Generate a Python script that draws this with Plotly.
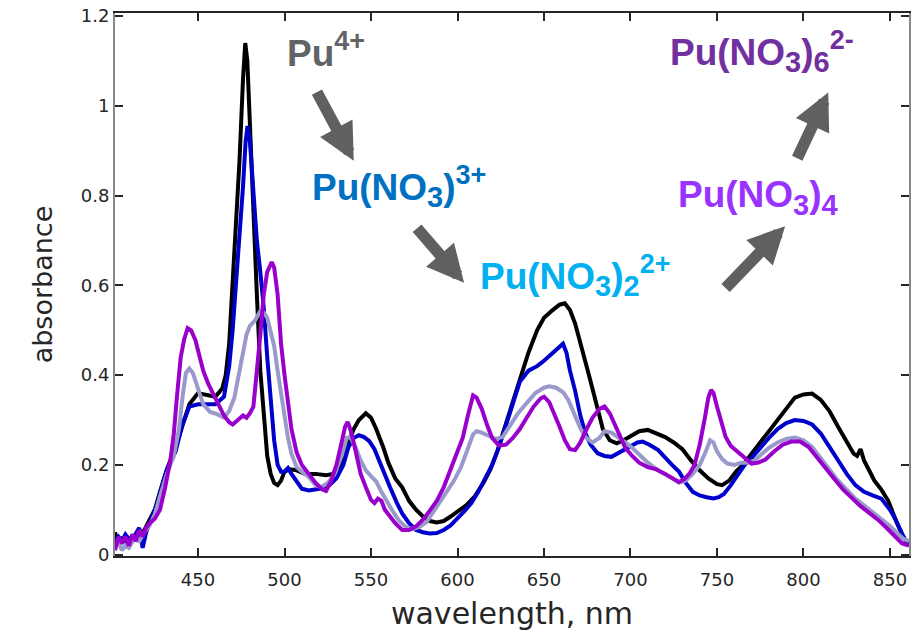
import plotly.graph_objects as go

# ---------------- data ----------------
wl_pu4 = [402, 404, 406, 408, 410, 413, 416, 419, 422, 425, 428, 432, 437, 441, 445, 450, 455, 460, 464, 466, 468,
          470, 472, 474, 476, 477.3, 478.5, 480, 482, 484, 486, 488, 490, 492, 494, 496, 498, 500, 503, 507, 512, 518,
          524, 528, 532, 536, 540, 543, 547, 550, 553, 557, 560, 564, 568, 572, 576, 580, 584, 588, 592, 596, 600,
          605, 610, 615, 619, 623, 627, 631, 636, 641, 646, 650, 655, 659, 662, 665, 668, 672, 676, 680, 684, 688,
          692, 696, 700, 705, 710, 715, 720, 725, 730, 735, 740, 745, 750, 753, 757, 761, 765, 770, 775, 780, 785,
          790, 795, 800, 805, 810, 815, 820, 825, 829, 831, 833, 835, 838, 841, 845, 849, 853, 857, 861]
abs_pu4 = [0.05, 0.02, 0.035, 0.03, 0.025, 0.04, 0.045, 0.055, 0.08, 0.10, 0.14, 0.19, 0.24, 0.29, 0.335, 0.36,
           0.355, 0.352, 0.37, 0.40, 0.47, 0.60, 0.72, 0.88, 1.06, 1.14, 1.10, 0.95, 0.78, 0.58, 0.41, 0.30, 0.22,
           0.18, 0.16, 0.155, 0.165, 0.185, 0.19, 0.188, 0.18, 0.18, 0.177, 0.18, 0.20, 0.24, 0.28, 0.30, 0.315,
           0.305, 0.28, 0.24, 0.205, 0.17, 0.15, 0.12, 0.10, 0.085, 0.075, 0.072, 0.075, 0.085, 0.095, 0.11, 0.13,
           0.16, 0.19, 0.23, 0.28, 0.33, 0.39, 0.45, 0.50, 0.528, 0.545, 0.557, 0.56, 0.545, 0.515, 0.46, 0.40, 0.34,
           0.28, 0.255, 0.248, 0.255, 0.265, 0.275, 0.278, 0.27, 0.262, 0.25, 0.235, 0.21, 0.188, 0.17, 0.157,
           0.155, 0.165, 0.185, 0.20, 0.225, 0.25, 0.275, 0.30, 0.325, 0.35, 0.357, 0.359, 0.345, 0.32, 0.285, 0.25,
           0.225, 0.22, 0.235, 0.21, 0.185, 0.165, 0.145, 0.12, 0.08, 0.045, 0.02]

wl_no3 = [402, 404, 406, 408, 410, 413, 416, 418, 420, 423, 426, 429, 432, 437, 441, 445, 450, 455, 460, 465, 468,
          470, 472, 474, 476, 477.5, 478.6, 480, 482, 484, 486, 488, 490, 492, 494, 496, 498, 500, 502, 504, 507,
          510, 514, 518, 522, 526, 530, 534, 537, 540, 543, 546, 549, 552, 555, 558, 561, 565, 568, 572, 576, 580,
          584, 588, 592, 596, 600, 604, 608, 612, 616, 620, 624, 628, 632, 636, 641, 646, 650, 655, 659, 661, 663,
          665, 668, 671, 674, 677, 681, 685, 689, 694, 699, 704, 707, 711, 716, 720, 724, 728, 732, 736, 740, 744,
          748, 751, 754, 758, 762, 766, 770, 775, 780, 785, 790, 795, 800, 805, 810, 815, 820, 825, 830, 835, 840,
          845, 850, 853, 856, 859, 861]
abs_no3 = [0.03, 0.04, 0.03, 0.045, 0.035, 0.04, 0.06, 0.015, 0.05, 0.08, 0.11, 0.15, 0.19, 0.23, 0.29, 0.33, 0.335,
           0.335, 0.335, 0.352, 0.42, 0.50, 0.60, 0.70, 0.82, 0.92, 0.955, 0.92, 0.80, 0.70, 0.63, 0.55, 0.44, 0.34,
           0.255, 0.20, 0.185, 0.185, 0.193, 0.18, 0.163, 0.147, 0.143, 0.145, 0.148, 0.155, 0.17, 0.20, 0.24, 0.26,
           0.266, 0.262, 0.253, 0.235, 0.205, 0.18, 0.15, 0.115, 0.092, 0.07, 0.055, 0.05, 0.047, 0.048, 0.055,
           0.065, 0.08, 0.097, 0.115, 0.14, 0.17, 0.20, 0.24, 0.29, 0.34, 0.385, 0.41, 0.42, 0.432, 0.45, 0.463,
           0.47, 0.45, 0.41, 0.365, 0.31, 0.27, 0.245, 0.226, 0.22, 0.218, 0.228, 0.24, 0.25, 0.252, 0.245, 0.233,
           0.215, 0.20, 0.185, 0.16, 0.14, 0.132, 0.128, 0.125, 0.128, 0.135, 0.155, 0.178, 0.20, 0.215, 0.238,
           0.26, 0.28, 0.293, 0.30, 0.298, 0.29, 0.27, 0.24, 0.21, 0.18, 0.155, 0.14, 0.132, 0.125, 0.10, 0.08,
           0.055, 0.03, 0.02]

wl_no3_2 = [402, 404, 406, 408, 410, 413, 416, 419, 422, 425, 428, 432, 436, 439, 441, 443, 445, 447, 450, 453, 457,
            461, 465, 468, 471, 474, 476, 478, 480, 483, 486, 488, 490, 492, 494, 496, 498, 500, 502, 504, 507, 510,
            514, 518, 521, 525, 529, 533, 536, 538, 541, 544, 547, 550, 553, 556, 559, 562, 566, 570, 574, 578, 582,
            586, 590, 594, 598, 602, 606, 609, 611, 614, 618, 622, 626, 630, 635, 640, 645, 650, 653, 657, 661, 664,
            668, 671, 674, 678, 682, 685, 689, 693, 697, 701, 705, 710, 715, 720, 724, 728, 732, 736, 740, 743, 746,
            748, 750, 753, 756, 760, 764, 768, 772, 776, 780, 785, 790, 795, 800, 805, 810, 815, 820, 825, 830, 835,
            840, 845, 850, 855, 858, 861]
abs_no3_2 = [0.02, 0.03, 0.01, 0.02, 0.015, 0.035, 0.03, 0.05, 0.065, 0.09, 0.13, 0.18, 0.22, 0.28, 0.35, 0.405,
             0.415, 0.405, 0.37, 0.335, 0.318, 0.313, 0.305, 0.32, 0.35, 0.41, 0.45, 0.49, 0.51, 0.522, 0.543, 0.54,
             0.528, 0.50, 0.465, 0.41, 0.36, 0.31, 0.26, 0.225, 0.195, 0.185, 0.173, 0.155, 0.15, 0.16, 0.18, 0.22,
             0.26, 0.262, 0.24, 0.21, 0.188, 0.175, 0.163, 0.14, 0.118, 0.10, 0.077, 0.062, 0.057, 0.062, 0.072,
             0.095, 0.118, 0.14, 0.165, 0.195, 0.235, 0.268, 0.275, 0.272, 0.265, 0.258, 0.262, 0.285, 0.315, 0.338,
             0.36, 0.372, 0.375, 0.372, 0.362, 0.345, 0.31, 0.282, 0.262, 0.25, 0.26, 0.275, 0.272, 0.262, 0.25,
             0.238, 0.222, 0.205, 0.19, 0.18, 0.17, 0.16, 0.165, 0.18, 0.20, 0.225, 0.255, 0.25, 0.23, 0.213, 0.203,
             0.20, 0.205, 0.205, 0.21, 0.225, 0.238, 0.25, 0.258, 0.261, 0.255, 0.24, 0.215, 0.19, 0.165, 0.145,
             0.125, 0.11, 0.095, 0.08, 0.064, 0.045, 0.035, 0.03]

wl_no3_4 = [402, 404, 406, 408, 410, 412, 414, 416, 418, 420, 422, 425, 428, 431, 434, 436, 438, 440, 442, 444, 446,
            448.5, 451, 453, 456, 459, 462, 465, 468, 470, 473, 476, 478, 480, 482, 484, 486, 488, 490, 492.6, 494,
            496, 498, 500, 502, 504, 507, 510, 514, 518, 522, 524, 527, 530, 533, 535, 536.5, 538, 540, 542, 544,
            547, 550, 552, 554, 556, 558, 561, 564, 568, 572, 576, 580, 584, 588, 592, 596, 600, 603, 606, 609, 611,
            614, 617, 620, 624, 628, 632, 636, 640, 644, 648, 650, 653, 656, 659, 662, 665, 668, 671, 674, 678, 682,
            685, 688, 691, 694, 697, 701, 705, 710, 715, 720, 724, 728, 731, 734, 737, 740, 743, 745, 746.6, 748,
            750, 752, 755, 758, 762, 766, 770, 774, 778, 783, 788, 793, 798, 803, 808, 813, 818, 823, 828, 833, 838,
            843, 848, 853, 857, 861]
abs_no3_4 = [0.01, 0.04, 0.025, 0.04, 0.02, 0.045, 0.03, 0.055, 0.04, 0.06, 0.07, 0.08, 0.10, 0.15, 0.21, 0.27, 0.36,
             0.44, 0.48, 0.505, 0.50, 0.478, 0.44, 0.41, 0.38, 0.355, 0.33, 0.31, 0.295, 0.29, 0.30, 0.31, 0.305,
             0.315, 0.33, 0.40, 0.49, 0.58, 0.63, 0.652, 0.64, 0.58, 0.47, 0.40, 0.34, 0.28, 0.228, 0.20, 0.18, 0.16,
             0.145, 0.142, 0.165, 0.20, 0.25, 0.285, 0.296, 0.28, 0.25, 0.215, 0.18, 0.15, 0.122, 0.115, 0.125, 0.12,
             0.10, 0.085, 0.07, 0.055, 0.055, 0.063, 0.078, 0.098, 0.12, 0.15, 0.19, 0.225, 0.26, 0.31, 0.355, 0.35,
             0.325, 0.29, 0.26, 0.243, 0.245, 0.26, 0.28, 0.305, 0.33, 0.348, 0.352, 0.34, 0.315, 0.285, 0.255,
             0.235, 0.233, 0.25, 0.275, 0.305, 0.325, 0.33, 0.315, 0.29, 0.26, 0.238, 0.22, 0.205, 0.195, 0.19,
             0.18, 0.17, 0.162, 0.168, 0.18, 0.20, 0.245, 0.305, 0.35, 0.367, 0.36, 0.33, 0.30, 0.262, 0.242, 0.228,
             0.215, 0.203, 0.205, 0.212, 0.23, 0.245, 0.252, 0.252, 0.24, 0.215, 0.19, 0.168, 0.145, 0.125, 0.108,
             0.093, 0.078, 0.06, 0.04, 0.025, 0.02]

series_names = ["Pu<sup>4+</sup>", "Pu(NO<sub>3</sub>)<sup>3+</sup>",
                "Pu(NO<sub>3</sub>)<sub>2</sub><sup>2+</sup>", "Pu(NO<sub>3</sub>)<sub>4</sub>"]
series_colors = ["#000000", "#0000cc", "#9999cc", "#9900cc"]

x_ticks = [450, 500, 550, 600, 650, 700, 750, 800, 850]
y_ticks = [0, 0.2, 0.4, 0.6, 0.8, 1.0, 1.2]

# ---------------- figure ----------------
fig = go.Figure()
for wl, ab, name, col in zip([wl_pu4, wl_no3, wl_no3_2, wl_no3_4],
                             [abs_pu4, abs_no3, abs_no3_2, abs_no3_4],
                             series_names, series_colors):
    fig.add_trace(go.Scatter(x=wl, y=ab, mode="lines", name=name,
                             line=dict(color=col, width=4)))


def sub(t):
    return '<sub><span style="font-size:29px">' + t + '</span></sub>'


def sup(t):
    return '<sup><span style="font-size:27px">' + t + '</span></sup>'


label_font = "Liberation Sans, Arial, sans-serif"
labels = [
    ("<b>Pu" + sup("4+") + "</b>", 500.0, 1.125, "#626366"),
    ("<b>Pu(NO" + sub("3") + ")" + sup("3+") + "</b>", 515.0, 0.8205, "#0070c0"),
    ("<b>Pu(NO" + sub("3") + ")" + sub("2") + sup("2+") + "</b>", 612.0, 0.621, "#00b0f0"),
    ("<b>Pu(NO" + sub("3") + ")" + sub("4") + "</b>", 726.3, 0.795, "#9933ff"),
    ("<b>Pu(NO" + sub("3") + ")" + sub("6") + sup("2-") + "</b>", 721.7, 1.121, "#7030a0"),
]
for txt, x, y, c in labels:
    fig.add_annotation(x=x, y=y, xref="x", yref="y", text=txt, showarrow=False,
                       xanchor="left", yanchor="middle",
                       font=dict(family=label_font, size=37, color=c))

# arrows: tip (x, y) in data units, tail offset in pixels
arrows = [(540.0, 0.878, -37.6, -70.0),
          (603.8, 0.606, -48.3, -56.0),
          (789.4, 0.732, -61.0, 63.3),
          (814.3, 1.030, -31.7, 67.3)]
for x, y, ax, ay in arrows:
    fig.add_annotation(x=x, y=y, xref="x", yref="y", ax=ax, ay=ay, text="",
                       showarrow=True, arrowhead=2, arrowsize=0.64, arrowwidth=11.5,
                       arrowcolor="#5f6062", standoff=0)

tick_font = dict(family="DejaVu Sans, sans-serif", size=18, color="#262626")
fig.update_xaxes(range=[402, 861], tickvals=x_ticks, ticks="inside", ticklen=8, tickwidth=1.5,
                 tickcolor="#262626", showline=True, linecolor="#262626", linewidth=2,
                 mirror="ticks", showgrid=False, zeroline=False, tickfont=tick_font,
                 ticklabelstandoff=6,
                 title=dict(text="wavelength, nm", standoff=14,
                            font=dict(family="DejaVu Sans, sans-serif", size=30, color="#262626")))
fig.update_yaxes(range=[-0.003, 1.207], tickvals=y_ticks, ticks="inside", ticklen=8, tickwidth=1.5,
                 tickcolor="#262626", showline=True, linecolor="#888888", linewidth=2,
                 mirror="ticks", showgrid=False, zeroline=False, tickfont=tick_font,
                 title=dict(text="absorbance", standoff=20,
                            font=dict(family="DejaVu Sans, sans-serif", size=27, color="#262626")))

fig.update_layout(width=912, height=633, margin=dict(l=115, r=1, t=13, b=77),
                  paper_bgcolor="white", plot_bgcolor="white", showlegend=False)

fig.write_html("out.html")
